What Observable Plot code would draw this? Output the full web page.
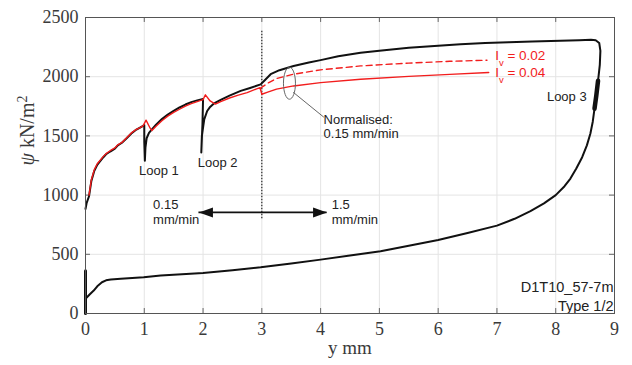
<!DOCTYPE html>
<html>
<head>
<meta charset="utf-8">
<script src="https://cdn.jsdelivr.net/npm/d3@7"></script>
<script src="https://cdn.jsdelivr.net/npm/@observablehq/plot@0.6"></script>
<style>
  html, body { margin: 0; padding: 0; background: white; }
</style>
</head>
<body>
<div id="chart"></div>
<script>
// ---------- data ----------
const xTicks = [0, 1, 2, 3, 4, 5, 6, 7, 8, 9];
const yTicks = [0, 500, 1000, 1500, 2000, 2500];

// measured test curve (black): shearing branch, loops 1 & 2, final unloading
const testDisp = [0, 0.02, 0.06, 0.1, 0.15, 0.2, 0.3, 0.35, 0.42, 0.5, 0.55, 0.62, 0.7, 0.78, 0.85, 0.92, 0.98, 1.0,
  1.0, 1.01, 1.02, 1.04, 1.08, 1.13, 1.2, 1.3, 1.4, 1.5, 1.6, 1.7, 1.8, 1.9, 2.0,
  1.99, 1.97, 1.98, 2.02, 2.07, 2.12, 2.18, 2.3, 2.45, 2.64, 2.8, 2.98, 3.05, 3.15, 3.3, 3.54, 3.8, 4.0, 4.3, 4.68,
  5.0, 5.5, 6.0, 6.38, 6.8, 7.2, 7.6, 8.08, 8.4, 8.6, 8.68, 8.74, 8.76, 8.75, 8.72, 8.69, 8.66, 8.63, 8.59, 8.53,
  8.45, 8.35, 8.25, 8.15, 8.0, 7.8, 7.57, 7.3, 7.0, 6.5, 6.0, 5.5, 5.02, 4.5, 4.0, 3.5, 2.98, 2.5, 2.0, 1.28,
  0.99, 0.6, 0.43, 0.35, 0.28, 0.2, 0.14, 0.07, 0];
const testPsi = [883, 935, 990, 1120, 1205, 1255, 1318, 1345, 1368, 1392, 1420, 1442, 1480, 1520, 1548, 1568, 1585, 1592,
  1450, 1290, 1400, 1480, 1525, 1555, 1595, 1642, 1680, 1712, 1740, 1765, 1785, 1800, 1812,
  1600, 1360, 1500, 1640, 1710, 1745, 1772, 1805, 1840, 1880, 1905, 1935, 1970, 2021, 2055, 2091, 2120, 2140, 2172, 2203,
  2220, 2245, 2262, 2274, 2285, 2292, 2298, 2303, 2308, 2312, 2308, 2285, 2218, 2100, 1965, 1840, 1730, 1620, 1520, 1420,
  1320, 1225, 1140, 1075, 1000, 930, 865, 800, 742, 680, 621, 573, 525, 490, 455, 423, 390, 365, 343, 320,
  306, 294, 287, 280, 264, 230, 194, 160, 124];

// initial vertical loading at y = 0
const initDisp = [0, 0];
const initPsi = [0, 362];

// thick part of loop 3
const loop3Disp = [8.72, 8.69, 8.66];
const loop3Psi = [1965, 1840, 1730];

// model, I_v = 0.04 (solid red)
const iv004Disp = [0.06, 0.1, 0.15, 0.2, 0.3, 0.35, 0.42, 0.5, 0.55, 0.62, 0.7, 0.78, 0.85, 0.92, 0.98, 1.03, 1.1,
  1.13, 1.2, 1.3, 1.4, 1.5, 1.6, 1.7, 1.8, 1.9, 2.0, 2.04, 2.12, 2.21, 2.3, 2.45, 2.6, 2.75, 2.9, 2.97, 3.0,
  3.1, 3.25, 3.54, 4.0, 4.68, 5.5, 6.2, 6.86];
const iv004Psi = [1000, 1130, 1215, 1265, 1325, 1350, 1375, 1398, 1425, 1445, 1485, 1525, 1550, 1568, 1585, 1633, 1565,
  1545, 1582, 1628, 1667, 1698, 1725, 1752, 1772, 1790, 1806, 1847, 1795, 1768, 1790, 1820, 1845, 1865, 1895, 1907, 1852,
  1870, 1895, 1922, 1950, 1979, 2003, 2020, 2035];

// model, I_v = 0.02 (dashed red)
const iv002Disp = [2.97, 3.1, 3.25, 3.54, 4.0, 4.68, 5.5, 6.2, 6.83];
const iv002Psi = [1900, 1945, 1985, 2021, 2058, 2091, 2115, 2130, 2139];

// rate change annotation
const rateChangeDisp = [3];
const rateRange = [801, 2386];
const arrowPsi = [854];
const arrowEnds = [1.93, 4.11];

// ellipse marking normalised curves + leader
const ellipseAt = [{x: 3.47, y: 1945}];
const leaderDisp = [3.54, 4.05];
const leaderPsi = [1866, 1660];

// annotation texts
const notes = [
  {x: 0.91, y: 1206, t: "Loop 1"},
  {x: 1.91, y: 1276, t: "Loop 2"},
  {x: 7.85, y: 1830, t: "Loop 3"},
  {x: 4.05, y: 1633, t: "Normalised:"},
  {x: 4.05, y: 1515, t: "0.15 mm/min"},
  {x: 1.15, y: 919, t: "0.15"},
  {x: 1.15, y: 790, t: "mm/min"},
  {x: 4.19, y: 919, t: "1.5"},
  {x: 4.19, y: 790, t: "mm/min"}
];
const specimenNotes = [
  {x: 9, y: 222, t: "D1T10_57-7m"},
  {x: 9, y: 59, t: "Type 1/2"}
];
const ivLabels = [
  {x: 6.97, y: 2175, t: "Iv = 0.02"},
  {x: 6.97, y: 2030, t: "Iv = 0.04"}
];

// ---------- build tables ----------
const zipXY = (xs, ys) => xs.map((x, i) => ({x, y: ys[i]}));
const test = zipXY(testDisp, testPsi);
const init = zipXY(initDisp, initPsi);
const loop3 = zipXY(loop3Disp, loop3Psi);
const iv004 = zipXY(iv004Disp, iv004Psi);
const iv002 = zipXY(iv002Disp, iv002Psi);
const leader = zipXY(leaderDisp, leaderPsi);

const RED = "#f21d1d";
const SANS = "Liberation Sans, Arial, sans-serif";

const ellipseSymbol = {
  draw(ctx) {
    const rx = 6, ry = 16, k = 0.5523;
    ctx.moveTo(rx, 0);
    ctx.bezierCurveTo(rx, ry * k, rx * k, ry, 0, ry);
    ctx.bezierCurveTo(-rx * k, ry, -rx, ry * k, -rx, 0);
    ctx.bezierCurveTo(-rx, -ry * k, -rx * k, -ry, 0, -ry);
    ctx.bezierCurveTo(rx * k, -ry, rx, -ry * k, rx, 0);
    ctx.closePath();
  }
};
const headSymbol = {
  draw(ctx) {
    ctx.moveTo(0, 0);
    ctx.lineTo(-14, -5);
    ctx.lineTo(-14, 5);
    ctx.closePath();
  }
};

const tickLenX = 0.085, tickLenY = 42;

const chart = Plot.plot({
  width: 632,
  height: 365,
  marginLeft: 85,
  marginRight: 18,
  marginTop: 17,
  marginBottom: 52,
  style: {fontFamily: "Liberation Serif, serif", fontSize: "18px", color: "#333", background: "white"},
  x: {domain: [0, 9]},
  y: {domain: [0, 2500]},
  marks: [
    Plot.gridX(xTicks, {stroke: "#e4e4e4", strokeOpacity: 1}),
    Plot.gridY(yTicks, {stroke: "#e4e4e4", strokeOpacity: 1}),
    // inward ticks
    Plot.ruleX(xTicks, {y1: 0, y2: tickLenY, stroke: "#666"}),
    Plot.ruleX(xTicks, {y1: 2500 - tickLenY, y2: 2500, stroke: "#666"}),
    Plot.ruleY(yTicks, {x1: 0, x2: tickLenX, stroke: "#666"}),
    Plot.ruleY(yTicks, {x1: 9 - tickLenX, x2: 9, stroke: "#666"}),
    Plot.axisX({ticks: xTicks, tickSize: 0, tickPadding: 9, label: null, fontSize: 18, fill: "#3a3a3a", tickFormat: d3.format("d")}),
    Plot.axisY({ticks: yTicks, tickSize: 0, tickPadding: 7, label: null, fontSize: 18, fill: "#3a3a3a", tickFormat: d3.format("d")}),
    Plot.text(["y mm"], {frameAnchor: "bottom", dy: 40, fontSize: 19, fill: "#3a3a3a"}),
    Plot.text(["ψ kN/m²"], {frameAnchor: "left", dx: -58, rotate: -90, fontSize: 20, fill: "#3a3a3a"}),
    // rate change
    Plot.ruleX(rateChangeDisp, {y1: rateRange[0], y2: rateRange[1], stroke: "#111", strokeWidth: 1.1, strokeDasharray: "1.5,1.5"}),
    // curves
    Plot.line(init, {x: "x", y: "y", stroke: "#111", strokeWidth: 3}),
    Plot.line(test, {x: "x", y: "y", stroke: "#111", strokeWidth: 2, curve: "linear"}),
    Plot.line(loop3, {x: "x", y: "y", stroke: "#111", strokeWidth: 4.5}),
    Plot.line(iv004, {x: "x", y: "y", stroke: RED, strokeWidth: 1.4}),
    Plot.line(iv002, {x: "x", y: "y", stroke: RED, strokeWidth: 1.4, strokeDasharray: "6,4"}),
    // arrow
    Plot.ruleY(arrowPsi, {x1: arrowEnds[0], x2: arrowEnds[1], stroke: "#111", strokeWidth: 1.6}),
    Plot.dot([{x: arrowEnds[1], y: arrowPsi[0]}], {x: "x", y: "y", symbol: headSymbol, fill: "#111", stroke: "none", r: 5}),
    Plot.dot([{x: arrowEnds[0], y: arrowPsi[0]}], {x: "x", y: "y", symbol: headSymbol, fill: "#111", stroke: "none", r: 5, rotate: 180}),
    // ellipse & leader
    Plot.dot(ellipseAt, {x: "x", y: "y", symbol: ellipseSymbol, stroke: "#666", fill: "none", strokeWidth: 1, r: 5}),
    Plot.line(leader, {x: "x", y: "y", stroke: "#555", strokeWidth: 0.9}),
    // texts
    Plot.text(notes, {x: "x", y: "y", text: "t", textAnchor: "start", fontFamily: SANS, fontSize: 13, fill: "#222"}),
    Plot.text(specimenNotes, {x: "x", y: "y", text: "t", textAnchor: "end", dx: -1, fontFamily: SANS, fontSize: 14.5, fill: "#222"}),
    Plot.text(ivLabels, {x: "x", y: "y", text: "t", textAnchor: "start", fontFamily: SANS, fontSize: 13.5, fill: RED}),
    Plot.frame({stroke: "#555", strokeWidth: 1})
  ]
});

document.getElementById("chart").appendChild(chart);

// typographic touches: italic psi, superscript 2, subscript v
const svg = d3.select(chart.tagName.toLowerCase() === "svg" ? chart : chart.querySelector("svg"));
svg.selectAll("text").each(function () {
  const el = d3.select(this);
  const txt = this.textContent;
  if (txt === "ψ kN/m²") {
    el.text(null);
    el.append("tspan").attr("font-style", "italic").text("ψ");
    el.append("tspan").text(" kN/m");
    el.append("tspan").attr("baseline-shift", "super").attr("font-size", "70%").text("2");
  } else if (/^Iv = /.test(txt)) {
    el.text(null);
    el.append("tspan").text("I");
    el.append("tspan").attr("baseline-shift", "sub").attr("font-size", "70%").text("v");
    el.append("tspan").text(txt.slice(2));
  }
});
</script>
</body>
</html>
